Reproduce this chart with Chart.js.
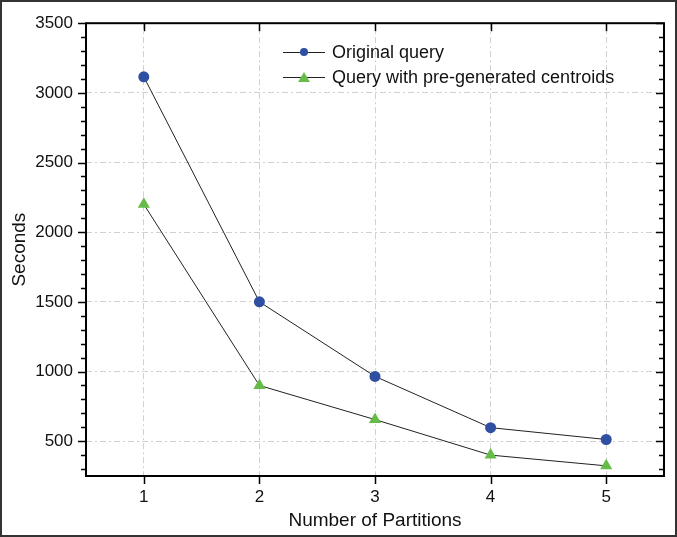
<!DOCTYPE html>
<html>
<head>
<meta charset="utf-8">
<script src="https://cdn.jsdelivr.net/npm/chart.js@4.4.1/dist/chart.umd.min.js"></script>
<style>
  html, body { margin: 0; padding: 0; background: #fff; }
  #wrap { width: 677px; height: 537px; box-sizing: border-box; border: 2px solid #333; position: relative; }
  #wrap canvas { position: absolute; left: -2px; top: -2px; }
</style>
</head>
<body>
<div id="wrap"><canvas id="chart" width="677" height="537"></canvas></div>
<script>
const partitions = [1, 2, 3, 4, 5];
const originalQuery = [3115, 1500, 965, 597, 512];
const preGenerated = [2200, 900, 655, 400, 323];
const yTicks = [500, 1000, 1500, 2000, 2500, 3000, 3500];
const seriesNames = ['Original query', 'Query with pre-generated centroids'];

const FONT = '"Liberation Sans", Arial, sans-serif';

// frame, tick marks and legend drawn on top
const framePlugin = {
  id: 'frame',
  afterDraw(chart) {
    const { ctx, chartArea: a, scales: { x, y } } = chart;
    ctx.save();
    ctx.strokeStyle = '#000';
    ctx.lineWidth = 2;
    ctx.strokeRect(a.left, a.top, a.right - a.left, a.bottom - a.top);
    ctx.lineWidth = 1.5;
    ctx.beginPath();
    // y ticks: major every 500, minor every 100
    for (let v = 300; v <= 3500; v += 100) {
      const py = Math.round(y.getPixelForValue(v)) + 0.5;
      const major = v % 500 === 0;
      const len = major ? 8 : 5;
      ctx.moveTo(a.left, py); ctx.lineTo(a.left - len, py);
      ctx.moveTo(a.right, py); ctx.lineTo(a.right - len, py);
    }
    partitions.forEach(p => {
      const px = Math.round(x.getPixelForValue(p)) + 0.5;
      ctx.moveTo(px, a.bottom); ctx.lineTo(px, a.bottom + 8);
      ctx.moveTo(px, a.top); ctx.lineTo(px, a.top + 8);
    });
    ctx.stroke();

    // legend
    const lx = 283, rows = [52, 77];
    ctx.font = '18px ' + FONT;
    ctx.textBaseline = 'middle';
    rows.forEach((ry, i) => {
      ctx.strokeStyle = '#222';
      ctx.lineWidth = 1;
      ctx.beginPath();
      ctx.moveTo(lx, ry + 0.5); ctx.lineTo(lx + 42, ry + 0.5);
      ctx.stroke();
      const ds = chart.data.datasets[i];
      ctx.fillStyle = ds.pointBackgroundColor;
      ctx.beginPath();
      if (i === 0) {
        ctx.arc(lx + 21, ry, 4, 0, Math.PI * 2);
      } else {
        ctx.moveTo(lx + 21, ry - 5); ctx.lineTo(lx + 27, ry + 5); ctx.lineTo(lx + 15, ry + 5); ctx.closePath();
      }
      ctx.fill();
      ctx.fillStyle = '#111';
      ctx.fillText(seriesNames[i], lx + 49, ry + 1);
    });
    ctx.restore();
  }
};

const gridStyle = {
  color: '#d0d0d0',
  lineWidth: 1,
  drawTicks: false
};

new Chart(document.getElementById('chart'), {
  type: 'line',
  data: {
    datasets: [
      {
        label: seriesNames[0],
        data: partitions.map((p, i) => ({ x: p, y: originalQuery[i] })),
        borderColor: '#222',
        borderWidth: 1,
        pointStyle: 'circle',
        pointRadius: 5.5,
        pointBackgroundColor: '#2f4fa2',
        pointBorderColor: '#2f4fa2',
        pointBorderWidth: 0,
        tension: 0
      },
      {
        label: seriesNames[1],
        data: partitions.map((p, i) => ({ x: p, y: preGenerated[i] })),
        borderColor: '#222',
        borderWidth: 1,
        pointStyle: 'triangle',
        pointRadius: 7,
        pointBackgroundColor: '#67bb48',
        pointBorderColor: '#67bb48',
        pointBorderWidth: 0,
        tension: 0
      }
    ]
  },
  options: {
    responsive: false,
    animation: false,
    devicePixelRatio: 1,
    layout: { padding: { top: 18, right: 13, left: 0, bottom: 0 } },
    plugins: { legend: { display: false }, tooltip: { enabled: false } },
    scales: {
      x: {
        type: 'linear',
        min: 0.5,
        max: 5.5,
        afterBuildTicks: s => { s.ticks = partitions.map(v => ({ value: v })); },
        afterFit: s => { s.height = 61; },
        grid: { ...gridStyle },
        border: { display: false, dash: [6, 3, 2, 3] },
        ticks: { color: '#111', font: { family: FONT, size: 17 }, padding: 11, callback: v => String(v) },
        title: { display: true, text: 'Number of Partitions', color: '#111', font: { family: FONT, size: 19 }, padding: { top: 0, bottom: 5 } }
      },
      y: {
        min: 250,
        max: 3500,
        afterBuildTicks: s => { s.ticks = yTicks.map(v => ({ value: v })); },
        afterFit: s => { s.width = 86; },
        grid: { ...gridStyle },
        border: { display: false, dash: [6, 3, 2, 3] },
        ticks: { color: '#111', font: { family: FONT, size: 17 }, padding: 13, callback: v => String(v) },
        title: { display: true, text: 'Seconds', color: '#111', font: { family: FONT, size: 19 }, padding: { top: 8, bottom: 4 } }
      }
    }
  },
  plugins: [framePlugin]
});
</script>
</body>
</html>
